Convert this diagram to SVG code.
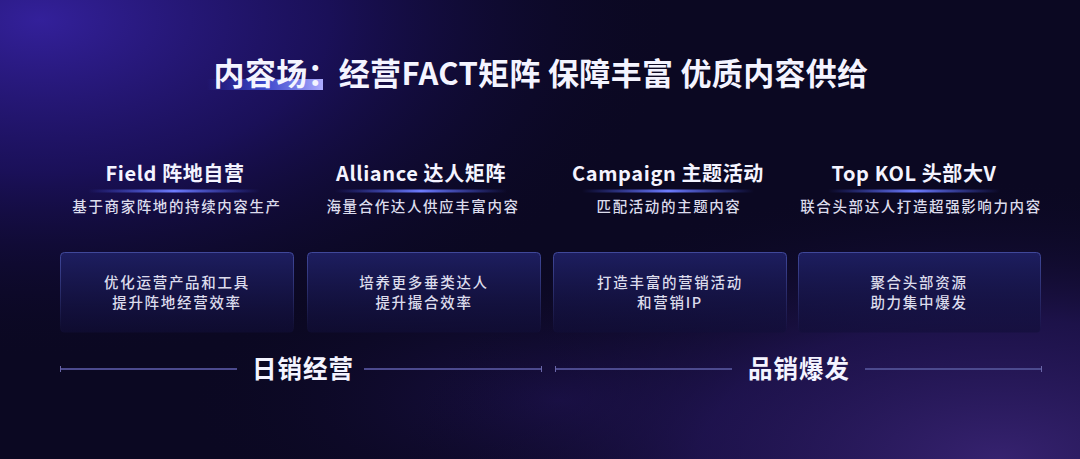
<svg xmlns="http://www.w3.org/2000/svg" width="1080" height="459" viewBox="0 0 1080 459">
  <defs>
    <radialGradient id="bgTL" cx="0" cy="0" r="1" gradientUnits="userSpaceOnUse" gradientTransform="translate(40 20) scale(640 340)">
      <stop offset="0" stop-color="#33209a"/>
      <stop offset="0.45" stop-color="#1e1266" stop-opacity="0.8"/>
      <stop offset="1" stop-color="#0b0822" stop-opacity="0"/>
    </radialGradient>
    <radialGradient id="bgBR" cx="0" cy="0" r="1" gradientUnits="userSpaceOnUse" gradientTransform="translate(1000 459) scale(600 280)">
      <stop offset="0" stop-color="#36226f"/>
      <stop offset="0.5" stop-color="#24165a" stop-opacity="0.7"/>
      <stop offset="1" stop-color="#0b0822" stop-opacity="0"/>
    </radialGradient>
    <radialGradient id="bgBM" cx="0" cy="0" r="1" gradientUnits="userSpaceOnUse" gradientTransform="translate(560 400) scale(380 150)">
      <stop offset="0" stop-color="#1e1250" stop-opacity="0.8"/>
      <stop offset="1" stop-color="#0b0822" stop-opacity="0"/>
    </radialGradient>
    <linearGradient id="accent" x1="0" y1="0" x2="1" y2="0">
      <stop offset="0" stop-color="#3a4cff" stop-opacity="0"/>
      <stop offset="0.5" stop-color="#4a5cf0" stop-opacity="0.75"/>
      <stop offset="1" stop-color="#aeacff"/>
    </linearGradient>
    <linearGradient id="glow" x1="0" y1="0" x2="1" y2="0">
      <stop offset="0" stop-color="#4a5cff" stop-opacity="0"/>
      <stop offset="0.5" stop-color="#6f7dff"/>
      <stop offset="1" stop-color="#4a5cff" stop-opacity="0"/>
    </linearGradient>
    <linearGradient id="boxFill" x1="0" y1="0" x2="0" y2="1">
      <stop offset="0" stop-color="#1d1e60"/>
      <stop offset="1" stop-color="#110e38" stop-opacity="0.6"/>
    </linearGradient>
    <linearGradient id="boxStroke" x1="0" y1="0" x2="0" y2="1">
      <stop offset="0" stop-color="#40489a"/>
      <stop offset="1" stop-color="#40489a" stop-opacity="0"/>
    </linearGradient>
    <style>
      text { font-family: "Noto Sans CJK SC", "Noto Sans", sans-serif; fill: #f4f4ff; text-anchor: middle; }
      .title { font-size: 31px; font-weight: 700; letter-spacing: 0.3px; }
      .head { font-size: 20px; font-weight: 700; letter-spacing: 0.6px; }
      .sub { font-size: 14.5px; font-weight: 500; fill: #dcdcec; letter-spacing: 1.6px; }
      .btxt { font-size: 14.5px; font-weight: 500; fill: #dcdcec; letter-spacing: 1.7px; }
      .band { font-size: 24.5px; font-weight: 700; letter-spacing: 1px; }
      .box { fill: url(#boxFill); stroke: url(#boxStroke); stroke-width: 1; }
      .glow { fill: url(#glow); }
      .rule { stroke: #4c4a8e; stroke-width: 2; fill: none; }
      .tick { stroke: #6a66a8; stroke-width: 1; }
    </style>
  </defs>

  <rect width="1080" height="459" fill="#0b0822"/>
  <rect width="1080" height="459" fill="url(#bgTL)"/>
  <rect width="1080" height="459" fill="url(#bgBM)"/>
  <rect width="1080" height="459" fill="url(#bgBR)"/>

  <g id="title">
    <rect x="207" y="79" width="116" height="11" fill="url(#accent)"/>
    <text class="title" x="541" y="85">内容场：经营FACT矩阵 保障丰富 优质内容供给</text>
  </g>

  <g id="col-field">
    <text class="head" x="175" y="181">Field 阵地自营</text>
    <rect class="glow" x="88" y="189.5" width="172" height="3"/>
    <text class="sub" x="177" y="212">基于商家阵地的持续内容生产</text>
    <rect class="box" x="60.5" y="252.5" width="233" height="80" rx="4"/>
    <text class="btxt" x="177" y="288">优化运营产品和工具</text>
    <text class="btxt" x="177" y="308">提升阵地经营效率</text>
  </g>

  <g id="col-alliance">
    <text class="head" x="421" y="181">Alliance 达人矩阵</text>
    <rect class="glow" x="335" y="189.5" width="172" height="3"/>
    <text class="sub" x="423" y="212">海量合作达人供应丰富内容</text>
    <rect class="box" x="307.5" y="252.5" width="233" height="80" rx="4"/>
    <text class="btxt" x="424" y="288">培养更多垂类达人</text>
    <text class="btxt" x="424" y="308">提升撮合效率</text>
  </g>

  <g id="col-campaign">
    <text class="head" x="668" y="181">Campaign 主题活动</text>
    <rect class="glow" x="582" y="189.5" width="172" height="3"/>
    <text class="sub" x="669" y="212">匹配活动的主题内容</text>
    <rect class="box" x="553.5" y="252.5" width="233" height="80" rx="4"/>
    <text class="btxt" x="670" y="288">打造丰富的营销活动</text>
    <text class="btxt" x="670" y="308">和营销IP</text>
  </g>

  <g id="col-kol">
    <text class="head" x="914" y="181">Top KOL 头部大V</text>
    <rect class="glow" x="828" y="189.5" width="172" height="3"/>
    <text class="sub" x="921" y="212">联合头部达人打造超强影响力内容</text>
    <rect class="box" x="798.5" y="252.5" width="242" height="80" rx="4"/>
    <text class="btxt" x="919" y="288">聚合头部资源</text>
    <text class="btxt" x="919" y="308">助力集中爆发</text>
  </g>

  <g id="connectors">
    <line class="rule" x1="60" y1="369" x2="237" y2="369"/>
    <line class="rule" x1="364" y1="369" x2="542" y2="369"/>
    <line class="rule" x1="555" y1="369" x2="732" y2="369"/>
    <line class="rule" x1="865" y1="369" x2="1042" y2="369"/>
    <line class="tick" x1="60.5" y1="366" x2="60.5" y2="372"/>
    <line class="tick" x1="541.5" y1="366" x2="541.5" y2="372"/>
    <line class="tick" x1="555.5" y1="366" x2="555.5" y2="372"/>
    <line class="tick" x1="1041.5" y1="366" x2="1041.5" y2="372"/>
  </g>

  <g id="band-daily">
    <text class="band" x="303" y="378">日销经营</text>
  </g>
  <g id="band-burst">
    <text class="band" x="799" y="378">品销爆发</text>
  </g>
</svg>
